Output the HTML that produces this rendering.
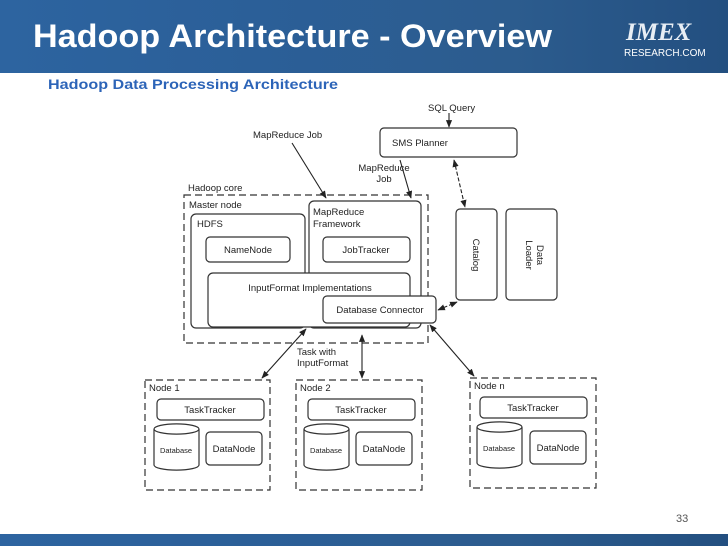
<!DOCTYPE html>
<html><head><meta charset="utf-8"><style>
html,body{margin:0;padding:0;background:#fff;width:728px;height:546px;overflow:hidden}
svg{display:block}
</style></head><body>
<svg width="728" height="546" viewBox="0 0 728 546" xmlns="http://www.w3.org/2000/svg" font-family="Liberation Sans, Arial, sans-serif">
<defs>
<linearGradient id="hb" x1="0" y1="0" x2="1" y2="0">
<stop offset="0" stop-color="#2d64a0"/><stop offset="0.35" stop-color="#2b5f98"/><stop offset="0.7" stop-color="#2c5c8e"/><stop offset="1" stop-color="#234f80"/>
</linearGradient>
<marker id="a" viewBox="0 0 10 10" refX="9" refY="5" markerWidth="7" markerHeight="7" orient="auto-start-reverse"><path d="M0,1 L10,5 L0,9 z" fill="#222"/></marker>
</defs>
<rect x="0" y="0" width="728" height="73" fill="url(#hb)"/>
<rect x="0" y="534" width="728" height="12" fill="url(#hb)"/>
<text x="33" y="47" font-size="32" font-weight="bold" fill="#fff" textLength="519" lengthAdjust="spacingAndGlyphs">Hadoop Architecture - Overview</text>
<text x="626" y="40" font-size="25" font-weight="bold" font-style="italic" font-family="Liberation Serif, serif" fill="#e8eef5">IMEX</text>
<text x="624" y="56" font-size="10" fill="#fff">RESEARCH.COM</text>
<text x="48" y="89" font-size="14" font-weight="bold" fill="#2c64b8" textLength="290" lengthAdjust="spacingAndGlyphs">Hadoop Data Processing Architecture</text>

<g fill="none" stroke="#333" stroke-width="1.2">
<rect x="380" y="128" width="137" height="29" rx="4"/>
<rect x="184" y="195" width="244" height="148" stroke-dasharray="7,4"/>
<rect x="191" y="214" width="114" height="114" rx="5"/>
<rect x="309" y="201" width="112" height="127" rx="5"/>
<rect x="206" y="237" width="84" height="25" rx="4"/>
<rect x="323" y="237" width="87" height="25" rx="4"/>
<rect x="208" y="273" width="202" height="54" rx="5" fill="#fff"/>
<rect x="323" y="296" width="113" height="27" rx="4" fill="#fff"/>
<rect x="456" y="209" width="41" height="91" rx="4"/>
<rect x="506" y="209" width="51" height="91" rx="4"/>
<rect x="145" y="380" width="125" height="110" stroke-dasharray="7,4"/>
<rect x="296" y="380" width="126" height="110" stroke-dasharray="7,4"/>
<rect x="470" y="378" width="126" height="110" stroke-dasharray="7,4"/>
<rect x="157" y="399" width="107" height="21" rx="4"/>
<rect x="308" y="399" width="107" height="21" rx="4"/>
<rect x="480" y="397" width="107" height="21" rx="4"/>
<rect x="206" y="432" width="56" height="33" rx="4"/>
<rect x="356" y="432" width="56" height="33" rx="4"/>
<rect x="530" y="431" width="56" height="33" rx="4"/>
<path d="M154,429 v36 a22,5 0 0 0 45,0 v-36 a22,5 0 0 0 -45,0 a22,5 0 0 0 45,0"/>
<path d="M304,429 v36 a22,5 0 0 0 45,0 v-36 a22,5 0 0 0 -45,0 a22,5 0 0 0 45,0"/>
<path d="M477,427 v36 a22,5 0 0 0 45,0 v-36 a22,5 0 0 0 -45,0 a22,5 0 0 0 45,0"/>
</g>
<g stroke="#222" stroke-width="1.1" fill="none">
<line x1="449" y1="113" x2="449" y2="127" marker-end="url(#a)"/>
<line x1="292" y1="143" x2="326" y2="198" marker-end="url(#a)"/>
<line x1="400" y1="160" x2="411" y2="198" marker-end="url(#a)"/>
<line x1="454" y1="160" x2="465" y2="207" stroke-dasharray="4,2" marker-start="url(#a)" marker-end="url(#a)"/>
<line x1="438" y1="310" x2="457" y2="302" stroke-dasharray="4,2" marker-start="url(#a)" marker-end="url(#a)"/>
<line x1="306" y1="329" x2="262" y2="378" marker-start="url(#a)" marker-end="url(#a)"/>
<line x1="362" y1="335" x2="362" y2="378" marker-start="url(#a)" marker-end="url(#a)"/>
<line x1="430" y1="325" x2="474" y2="376" marker-start="url(#a)" marker-end="url(#a)"/>
</g>
<g font-size="9.5" fill="#222">
<text x="428" y="111">SQL Query</text>
<text x="420" y="146" text-anchor="middle">SMS Planner</text>
<text x="253" y="138">MapReduce Job</text>
<text x="384" y="171" text-anchor="middle">MapReduce</text>
<text x="384" y="182" text-anchor="middle">Job</text>
<text x="188" y="191">Hadoop core</text>
<text x="189" y="208">Master node</text>
<text x="197" y="227">HDFS</text>
<text x="313" y="215">MapReduce</text>
<text x="313" y="227">Framework</text>
<text x="248" y="253" text-anchor="middle">NameNode</text>
<text x="366" y="253" text-anchor="middle">JobTracker</text>
<text x="310" y="291" text-anchor="middle">InputFormat Implementations</text>
<text x="380" y="313" text-anchor="middle">Database Connector</text>
<text transform="translate(473,255) rotate(90)" text-anchor="middle">Catalog</text>
<text transform="translate(537,255) rotate(90)" text-anchor="middle">Data</text>
<text transform="translate(526,255) rotate(90)" text-anchor="middle">Loader</text>
<text x="297" y="355">Task with</text>
<text x="297" y="366">InputFormat</text>
<text x="149" y="391">Node 1</text>
<text x="300" y="391">Node 2</text>
<text x="474" y="389">Node n</text>
<text x="210" y="413" text-anchor="middle">TaskTracker</text>
<text x="361" y="413" text-anchor="middle">TaskTracker</text>
<text x="533" y="411" text-anchor="middle">TaskTracker</text>
<text x="234" y="452" text-anchor="middle">DataNode</text>
<text x="384" y="452" text-anchor="middle">DataNode</text>
<text x="558" y="451" text-anchor="middle">DataNode</text>
<text x="176" y="453" text-anchor="middle" font-size="7.5">Database</text>
<text x="326" y="453" text-anchor="middle" font-size="7.5">Database</text>
<text x="499" y="451" text-anchor="middle" font-size="7.5">Database</text>
</g>
<text x="676" y="522" font-size="11" fill="#555">33</text>
</svg>
</body></html>
